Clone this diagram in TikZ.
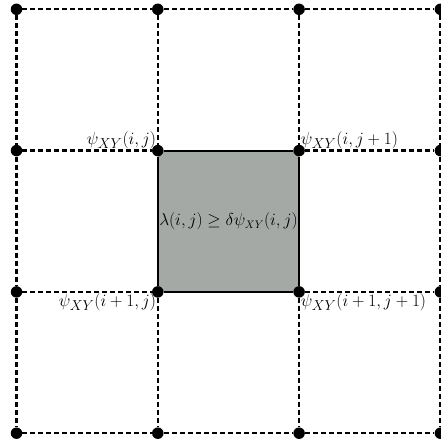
\documentclass[tikz,border=0pt]{standalone}
\usetikzlibrary{calc,backgrounds}
\definecolor{cellgray}{RGB}{164,169,166}
\begin{document}
\begin{tikzpicture}[x=1pt,y=1pt,
  dot/.style={circle,fill=black,inner sep=0pt,minimum size=11.5pt},
  gridline/.style={line width=2.4pt,dash pattern=on 5pt off 3pt},
  edgeline/.style={line width=2pt},
  lbl/.style={font=\fontsize{19}{22}\selectfont,inner sep=1.5pt},
  cen/.style={font=\fontsize{16}{19}\selectfont,inner sep=0pt}]
\useasboundingbox (0,0) rectangle (440,445);
\foreach \i/\x in {0/16.5,1/157.8,2/299.1,3/440.4}
  \foreach \j/\y in {0/435.7,1/294.4,2/153.1,3/11.8}
    \node[dot] (n\j\i) at (\x,\y) {};
% gray cell
\begin{scope}[on background layer]
  \fill[cellgray] (n11.center) rectangle (n22.center);
\end{scope}
\draw[edgeline] (n11) -- (n12);
\draw[edgeline] (n12) -- (n22);
\draw[edgeline] (n22) -- (n21);
\draw[edgeline] (n21) -- (n11);
% horizontal dashed lines
\foreach \j in {0,3}
  \foreach \i/\k in {0/1,1/2,2/3}
    \draw[gridline] (n\j\i) -- (n\j\k);
\foreach \j in {1,2}
  \foreach \i/\k in {0/1,2/3}
    \draw[gridline] (n\j\i) -- (n\j\k);
% vertical dashed lines
\foreach \i in {0,3}
  \foreach \j/\k in {0/1,1/2,2/3}
    \draw[gridline] (n\j\i) -- (n\k\i);
\foreach \i in {1,2}
  \foreach \j/\k in {0/1,2/3}
    \draw[gridline] (n\j\i) -- (n\k\i);
% labels
\node[lbl,anchor=south east] (l11) at (n11.center) {$\psi_{XY}(i,j)$};
\node[lbl,anchor=south west] (l12) at (n12.center) {$\psi_{XY}(i,j+1)$};
\node[lbl,anchor=north east] (l21) at (n21.center) {$\psi_{XY}(i+1,j)$};
\node[lbl,anchor=north west] (l22) at (n22.center) {$\psi_{XY}(i+1,j+1)$};
\node[cen] (c) at ($(n11.center)!0.5!(n22.center)$) {$\lambda(i,j)\geq\delta\psi_{XY}(i,j)$};
\end{tikzpicture}
\end{document}
